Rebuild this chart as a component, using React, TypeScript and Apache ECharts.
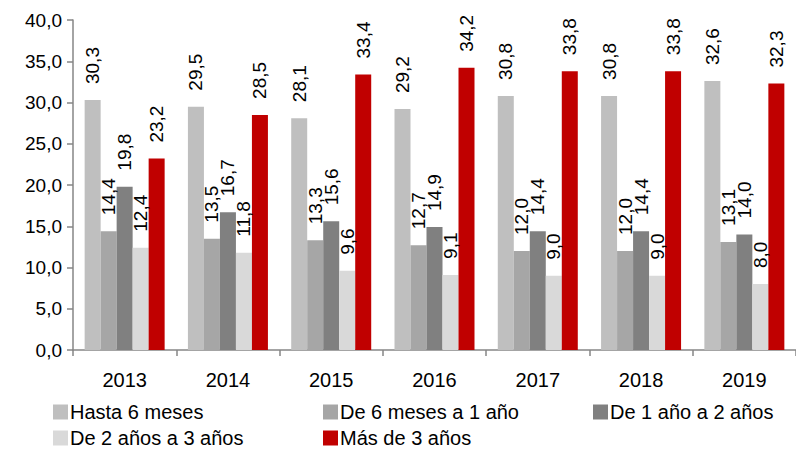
import React, { useEffect, useRef } from "react";
import * as echarts from "echarts";

const years = ["2013", "2014", "2015", "2016", "2017", "2018", "2019"];
const seriesNames = [
  "Hasta 6 meses",
  "De 6 meses a 1 año",
  "De 1 año a 2 años",
  "De 2 años a 3 años",
  "Más de 3 años",
];
const hasta6 = [30.3, 29.5, 28.1, 29.2, 30.8, 30.8, 32.6];
const de6a1 = [14.4, 13.5, 13.3, 12.7, 12.0, 12.0, 13.1];
const de1a2 = [19.8, 16.7, 15.6, 14.9, 14.4, 14.4, 14.0];
const de2a3 = [12.4, 11.8, 9.6, 9.1, 9.0, 9.0, 8.0];
const mas3 = [23.2, 28.5, 33.4, 34.2, 33.8, 33.8, 32.3];
const colors = ["#BFBFBF", "#A6A6A6", "#808080", "#D9D9D9", "#C00000"];

const FONT = "Liberation Sans, Arial, sans-serif";
const fmt = (v: number) => v.toFixed(1).replace(".", ",");

export default function App() {
  const ref = useRef<HTMLDivElement>(null);
  useEffect(() => {
    if (!ref.current) return;
    const chart = echarts.init(ref.current, undefined, { renderer: "svg" });
    const data = [hasta6, de6a1, de1a2, de2a3, mas3];
    const legendPos = [
      { left: 53, top: 402 },
      { left: 323, top: 402 },
      { left: 593, top: 402 },
      { left: 53, top: 428 },
      { left: 323, top: 428 },
    ];
    chart.setOption({
      animation: false,
      textStyle: { fontFamily: FONT },
      grid: { left: 73, top: 20, right: -12, bottom: 99, containLabel: false },
      legend: seriesNames.map((n, i) => ({
        data: [n],
        left: legendPos[i].left,
        top: legendPos[i].top,
        itemWidth: 15,
        itemHeight: 15,
        itemGap: 0,
        padding: 0,
        icon: "rect",
        textStyle: { fontFamily: FONT, fontSize: 20, color: "#000", padding: [0, 0, 0, -3] },
      })),
      xAxis: {
        type: "category",
        data: years,
        axisLine: { lineStyle: { color: "#868686", width: 1.5 } },
        axisTick: { show: true, length: 6, alignWithLabel: false, lineStyle: { color: "#868686", width: 1.5 } },
        axisLabel: { fontFamily: FONT, fontSize: 20, color: "#000", margin: 20 },
      },
      yAxis: {
        type: "value",
        min: 0,
        max: 40,
        interval: 5,
        splitLine: { show: false },
        axisLine: { show: true, lineStyle: { color: "#868686", width: 1.5 } },
        axisTick: { show: true, length: 6, lineStyle: { color: "#868686", width: 1.5 } },
        axisLabel: { fontFamily: FONT, fontSize: 19, color: "#000", margin: 11, formatter: (v: number) => fmt(v) },
      },
      series: seriesNames.map((n, i) => ({
        name: n,
        type: "bar",
        data: data[i],
        barWidth: 16,
        barGap: "0%",
        itemStyle: { color: colors[i] },
        label: {
          show: true,
          position: "top",
          distance: 16,
          rotate: 90,
          align: "left",
          verticalAlign: "middle",
          fontFamily: FONT,
          fontSize: 19,
          color: "#000",
          formatter: (p: any) => fmt(p.value),
        },
      })),
    });
    return () => chart.dispose();
  }, []);
  return (
    <div
      ref={ref}
      style={{ position: "fixed", left: 0, top: 0, width: 796, height: 449, background: "#fff" }}
    />
  );
}
